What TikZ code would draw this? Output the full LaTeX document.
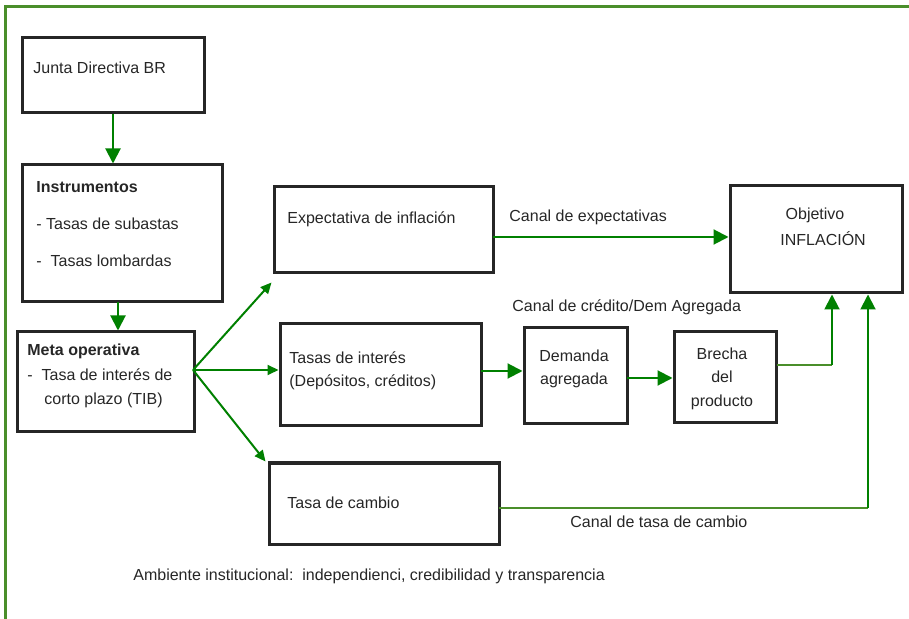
\documentclass[tikz,border=0pt]{standalone}
\usepackage{fontspec}
\setmainfont{Liberation Sans}
\usetikzlibrary{arrows.meta,fit}
\definecolor{agreen}{RGB}{0,128,0}
\definecolor{fgreen}{RGB}{74,142,42}
\definecolor{boxc}{RGB}{38,38,38}
\begin{document}
\begin{tikzpicture}[x=0.5pt,y=-0.5pt,
  box/.style={draw=boxc,line width=1.5pt,inner sep=0pt},
  txt/.style={anchor=base west,inner sep=0pt,text=boxc,font=\fontsize{8}{12}\selectfont},
  btxt/.style={anchor=base west,inner sep=0pt,text=boxc,font=\fontsize{8}{12}\selectfont\bfseries},
  ctxt/.style={anchor=base,inner sep=0pt,text=boxc,font=\fontsize{8}{12}\selectfont},
  big/.style={draw=agreen,line width=1pt,-{Triangle[length=7.5pt,width=7.5pt]}},
  small/.style={draw=agreen,line width=1pt,-{Triangle[length=5.5pt,width=5pt]}},
  gline/.style={draw=fgreen,line width=1pt},
  frameline/.style={draw=fgreen,line width=1.5pt}]
\useasboundingbox (0,0) rectangle (909,619);
\draw[frameline] (5,619) -- (5,7) -- (909,7);

% boxes
\node[box,fit={(22,38)(204,113)}] (junta) {};
\node[box,fit={(22,165)(222,302)}] (instr) {};
\node[box,fit={(17,332)(194,432)}] (meta) {};
\node[box,fit={(274,187)(493,273)}] (expect) {};
\node[box,fit={(280,324)(481,426)}] (tasas) {};
\node[box,fit={(524,328)(627,424)}] (dem) {};
\node[box,fit={(674,332)(776,423)}] (bre) {};
\node[box,fit={(730,186)(902,293)}] (obj) {};
\node[box,fit={(269,463)(499,544)}] (camb) {};

% texts
\node[txt] (t01) at (33,74) {Junta Directiva BR};
\node[btxt] (t02) at (36,193) {Instrumentos};
\node[txt] (t03) at (36,230) {- Tasas de subastas};
\node[txt] (t04) at (36,267) {-\ \ Tasas lombardas};
\node[btxt] (t05) at (27,356) {Meta operativa};
\node[txt] (t06) at (27,381) {-\ \ Tasa de interés de};
\node[txt] (t07) at (44,405) {corto plazo (TIB)};
\node[txt] (t08) at (287,224) {Expectativa de inflación};
\node[txt] (t09) at (289,364) {Tasas de interés};
\node[txt] (t10) at (289,387) {(Depósitos, créditos)};
\node[ctxt] (t11) at (574,362) {Demanda};
\node[ctxt] (t12) at (574,385) {agregada};
\node[ctxt] (t13) at (722,360) {Brecha};
\node[ctxt] (t14) at (722,383) {del};
\node[ctxt] (t15) at (722,407) {producto};
\node[ctxt] (t16) at (815,220) {Objetivo};
\node[txt] (t17) at (780,246) {INFLACIÓN};
\node[txt] (t18) at (287,509) {Tasa de cambio};
\node[txt] (t19) at (509,222) {Canal de expectativas};
\node[txt] (t20) at (512,312) {Canal de crédito/Dem Agregada};
\node[txt] (t21) at (570,527) {Canal de tasa de cambio};
\node[txt] (t22) at (133,580) {Ambiente institucional:\ \ independienci, credibilidad y transparencia};

% connectors
\draw[big] (junta.south) -- (junta.south |- instr.north);
\coordinate (i1) at (118,302);
\draw[big] (i1) -- (i1 |- meta.north);
\coordinate (mo) at (193,370);
\draw[small] (mo) -- ([shift={(-0.5pt,-4pt)}]expect.south west);
\draw[small] (mo) -- (mo -| tasas.west);
\draw[small] (mo) -- ([xshift=-1pt]camb.north west);
\coordinate (e1) at (493,237);
\draw[big] (e1) -- (e1 -| obj.west);
\coordinate (t1) at (481,371);
\draw[big] (t1) -- (t1 -| dem.west);
\coordinate (d1) at (627,378);
\draw[big] (d1) -- (d1 -| bre.west);
\coordinate (b1) at (777,365);
\coordinate (b2) at (832,365);
\draw[gline] (b1) -- (b2);
\draw[big] (b2) -- (b2 |- obj.south);
\coordinate (c1) at (499,508);
\coordinate (c2) at (868,508);
\draw[gline] (c1) -- (c2);
\draw[big] (c2) -- (c2 |- obj.south);
\end{tikzpicture}
\end{document}
